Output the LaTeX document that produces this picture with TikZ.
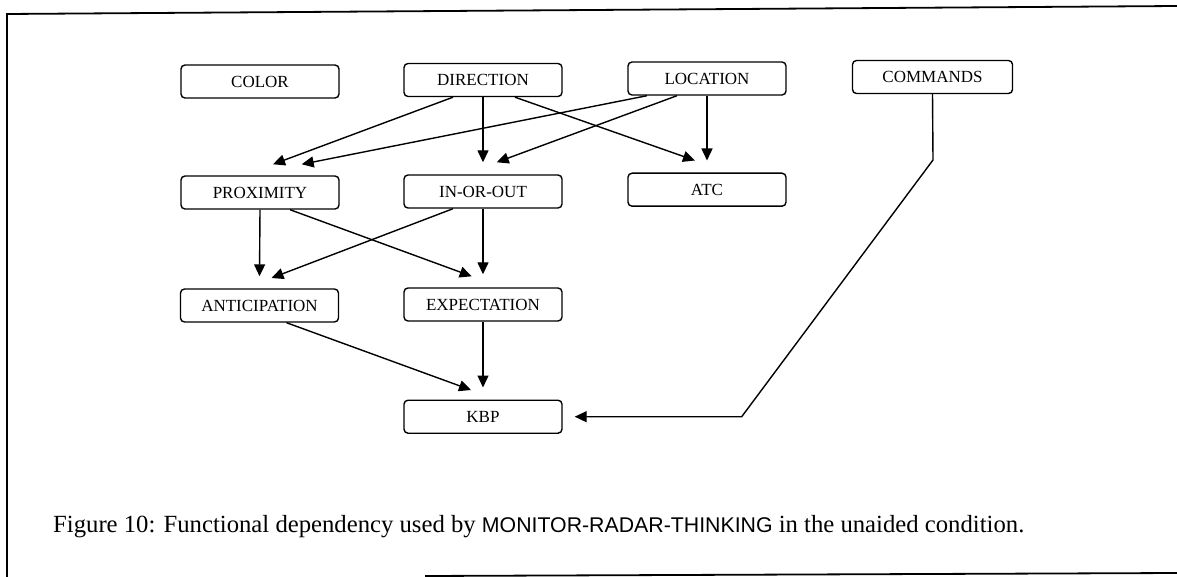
\documentclass[tikz,border=0pt]{standalone}
\usepackage{fontspec}
\setmainfont{Liberation Serif}
\setsansfont{Liberation Sans}
\usetikzlibrary{arrows.meta}

\tikzset{
  box/.style={draw, line width=1.4pt, rounded corners=4pt,
    minimum width=158pt, minimum height=33pt, inner sep=0pt,
    font=\fontsize{17}{20}\selectfont},
  arr/.style={line width=1.4pt, -{Triangle[length=12pt,width=11pt]}},
  frame/.style={line width=1.8pt}
}

\begin{document}
\begin{tikzpicture}[x=1pt, y=-1pt]
  \useasboundingbox (0,0) rectangle (1177,577);

  % page frame
  \draw[frame] (7,577) -- (7,14) -- (1177,6);
  \draw[frame] (425,576) -- (1177,573);

  % variables
  \node[box] (color) at (260,81.5)   {COLOR};
  \node[box] (dir)   at (483,80)     {DIRECTION};
  \node[box] (loc)   at (707,78.5)   {LOCATION};
  \node[box, minimum width=160pt] (cmd) at (932.5,77) {COMMANDS};
  \node[box] (prox)  at (260,192.5)  {PROXIMITY};
  \node[box] (io)    at (483,191.5)  {IN-OR-OUT};
  \node[box] (atc)   at (707,189.7)  {ATC};
  \node[box] (antic) at (259.5,305.5){ANTICIPATION};
  \node[box] (exp)   at (483,304.5)  {EXPECTATION};
  \node[box] (kbp)   at (483,416.7)  {KBP};

  % dependencies
  \draw[arr] ([xshift=-30pt]dir.south) -- ([xshift=13pt,yshift=11pt]prox.north);
  \draw[arr] ([xshift=-60pt]loc.south) -- ([xshift=41.7pt,yshift=11pt]prox.north);
  \draw[arr] (dir.south) -- ([yshift=12pt]io.north);
  \draw[arr] ([xshift=-30pt]loc.south) -- ([xshift=13.7pt,yshift=12pt]io.north);
  \draw[arr] ([xshift=32pt]dir.south) -- ([xshift=-12pt,yshift=12pt]atc.north);
  \draw[arr] (loc.south) -- ([yshift=12pt]atc.north);

  \draw[arr] (prox.south) -- ([yshift=12pt]antic.north);
  \draw[arr] ([xshift=-30pt]io.south) -- ([xshift=12pt,yshift=10.3pt]antic.north);
  \draw[arr] ([xshift=30pt]prox.south) -- ([xshift=-11.3pt,yshift=11pt]exp.north);
  \draw[arr] (io.south) -- ([yshift=13pt]exp.north);

  \draw[arr] ([xshift=27pt]antic.south) -- ([xshift=-12pt,yshift=9.5pt]kbp.north);
  \draw[arr] (exp.south) -- ([yshift=12pt]kbp.north);

  \coordinate (bend1) at (933,160);
  \coordinate (bend2) at (741.7,416.7);
  \draw[arr] (cmd.south) -- (bend1) -- (bend2) -- ([xshift=12pt]kbp.east);

  % caption
  \node[anchor=base west, inner sep=0pt, font=\fontsize{24.7}{28}\selectfont] (cap) at (53,532)
    {Figure 10: Functional dependency used by {\sffamily\fontsize{21.3}{24}\selectfont MONITOR-RADAR-THINKING} in the unaided condition.};
\end{tikzpicture}
\end{document}
